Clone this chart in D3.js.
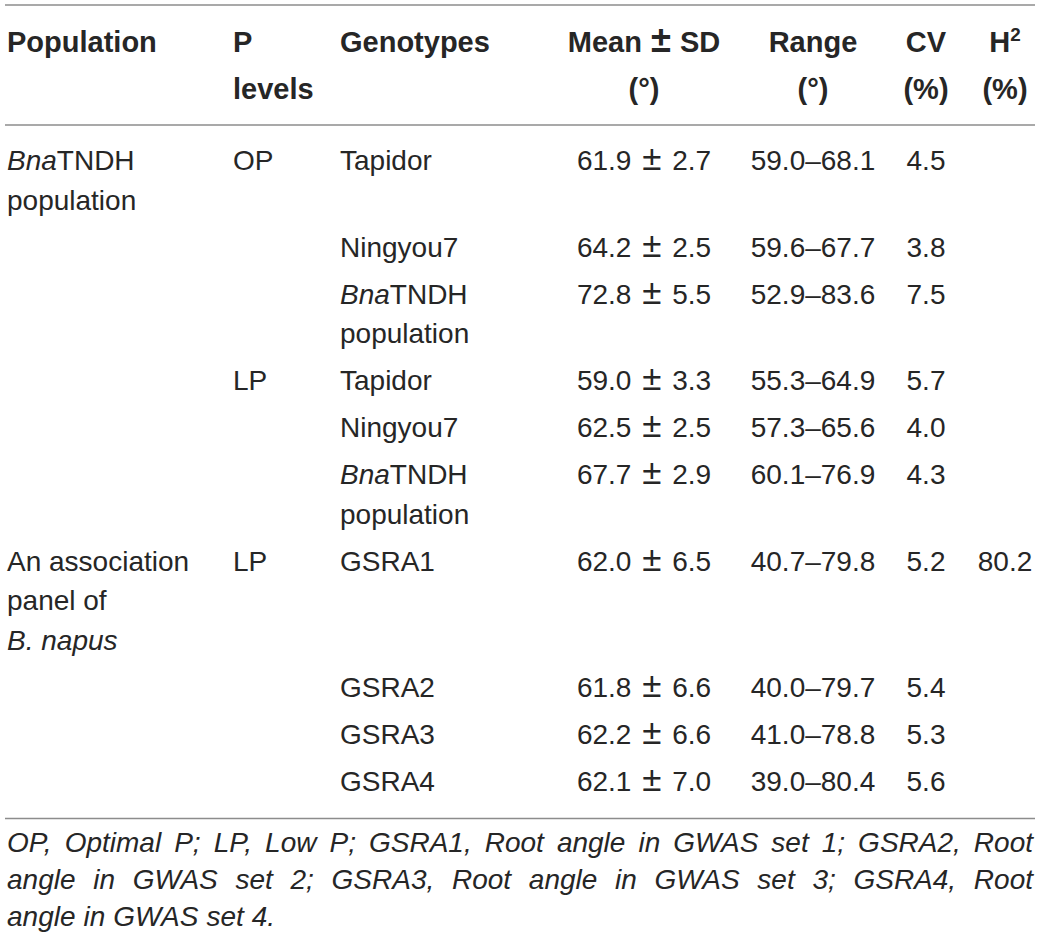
<!DOCTYPE html>
<html>
<head>
<meta charset="utf-8">
<script src="https://cdn.jsdelivr.net/npm/d3@7"></script>
<style>
  html, body { margin: 0; padding: 0; background: #fff; }
  text { font-family: "Liberation Sans", Arial, sans-serif; fill: #262626; }
</style>
</head>
<body>
<script>
// table content, *x* = italic, | = line break
const populations = ["*Bna*TNDH|population", "", "", "", "", "", "An association|panel of|*B. napus*", "", "", ""];
const pLevels = ["OP", "", "", "LP", "", "", "LP", "", "", ""];
const genotypes = ["Tapidor", "Ningyou7", "*Bna*TNDH|population", "Tapidor", "Ningyou7", "*Bna*TNDH|population",
                   "GSRA1", "GSRA2", "GSRA3", "GSRA4"];
const means = [61.9, 64.2, 72.8, 59.0, 62.5, 67.7, 62.0, 61.8, 62.2, 62.1];
const sds = [2.7, 2.5, 5.5, 3.3, 2.5, 2.9, 6.5, 6.6, 6.6, 7.0];
const rangeLo = [59.0, 59.6, 52.9, 55.3, 57.3, 60.1, 40.7, 40.0, 41.0, 39.0];
const rangeHi = [68.1, 67.7, 83.6, 64.9, 65.6, 76.9, 79.8, 79.7, 78.8, 80.4];
const cvs = [4.5, 3.8, 7.5, 5.7, 4.0, 4.3, 5.2, 5.4, 5.3, 5.6];
const h2s = [null, null, null, null, null, null, 80.2, null, null, null];

const headers = ["Population", "P|levels", "Genotypes", "Mean ± SD|(°)", "Range|(°)", "CV|(%)", "H^2|(%)"];
const footLines = [
  "OP, Optimal P; LP, Low P; GSRA1, Root angle in GWAS set 1; GSRA2, Root",
  "angle in GWAS set 2; GSRA3, Root angle in GWAS set 3; GSRA4, Root",
  "angle in GWAS set 4."
];

const W = 1040, H = 942;
const fs = 28, hfs = 29, lineH = 39.5, rowGap = 7.5;

const svg = d3.select("body").append("svg").attr("width", W).attr("height", H);

// column anchors
const colKeys = ["pop", "p", "geno", "mean", "range", "cv", "h2"];
const colX = d3.scaleOrdinal().domain(colKeys).range([7, 233, 340, 644, 813, 926, 1005]);
const colAnchor = d3.scaleOrdinal().domain(colKeys).range(["start", "start", "start", "middle", "middle", "middle", "middle"]);

const f1 = d => d.toFixed(1);
const rows = means.map((m, i) => ({
  pop: populations[i], p: pLevels[i], geno: genotypes[i],
  mean: `${f1(m)} ± ${f1(sds[i])}`,
  range: `${f1(rangeLo[i])}–${f1(rangeHi[i])}`,
  cv: f1(cvs[i]),
  h2: h2s[i] == null ? "" : f1(h2s[i])
}));

const nLines = r => d3.max(colKeys, k => r[k] ? r[k].split("|").length : 1);

// row baselines
let y0 = 170;
const rowY = rows.map(r => { const y = y0; y0 += nLines(r) * lineH + rowGap; return y; });
const lastY = rowY[rowY.length - 1];

function cell(g, str, x, y, anchor, size, weight) {
  str.split("|").forEach((line, li) => {
    const t = g.append("text")
      .attr("x", x).attr("y", y + li * (weight === "bold" ? 47 : lineH))
      .attr("text-anchor", anchor)
      .style("font-size", size + "px")
      .style("font-weight", weight);
    if (line.includes("^")) {
      const [a, b] = line.split("^");
      t.append("tspan").text(a);
      t.append("tspan").attr("dy", -11).style("font-size", (size * 0.65) + "px").text(b);
      return;
    }
    if (line.includes(" ± ")) {
      // wider plus-minus like the typeset original
      const [a, b] = line.split(" ± ");
      t.append("tspan").text(a + " ");
      t.append("tspan").attr("dx", weight === "bold" ? 1 : 3).style("font-size", (size * 1.25) + "px").text("±");
      t.append("tspan").attr("dx", weight === "bold" ? 1 : 3).text(" " + b);
      return;
    }
    line.split("*").forEach((seg, si) => {
      if (!seg) return;
      t.append("tspan").style("font-style", si % 2 ? "italic" : "normal").text(seg);
    });
  });
}

// rules
const rule = (y) => svg.append("line").attr("x1", 5).attr("x2", 1035).attr("y1", y).attr("y2", y)
  .attr("stroke", "#8c8c8c").attr("stroke-width", 1.5);
rule(5);
rule(125);
rule(lastY + 28);

// header
const hg = svg.append("g");
headers.forEach((h, i) => cell(hg, h, colX(colKeys[i]), 52, colAnchor(colKeys[i]), hfs, "bold"));

// body
const bg = svg.append("g");
rows.forEach((r, i) => {
  colKeys.forEach(k => { if (r[k]) cell(bg, r[k], colX(k), rowY[i], colAnchor(k), fs, "normal"); });
});

// footnote, justified
const fg = svg.append("g").style("font-style", "italic");
const footY = lastY + 61, left = 7, right = 1033;
footLines.forEach((line, li) => {
  const words = line.split(" ");
  const y = footY + li * 37;
  const nodes = words.map(w => fg.append("text").attr("y", y).style("font-size", fs + "px").text(w));
  const widths = nodes.map(n => n.node().getComputedTextLength());
  const last = li === footLines.length - 1;
  const gap = last ? 8 : (right - left - d3.sum(widths)) / (words.length - 1);
  let x = left;
  nodes.forEach((n, j) => { n.attr("x", x); x += widths[j] + gap; });
});
</script>
</body>
</html>
